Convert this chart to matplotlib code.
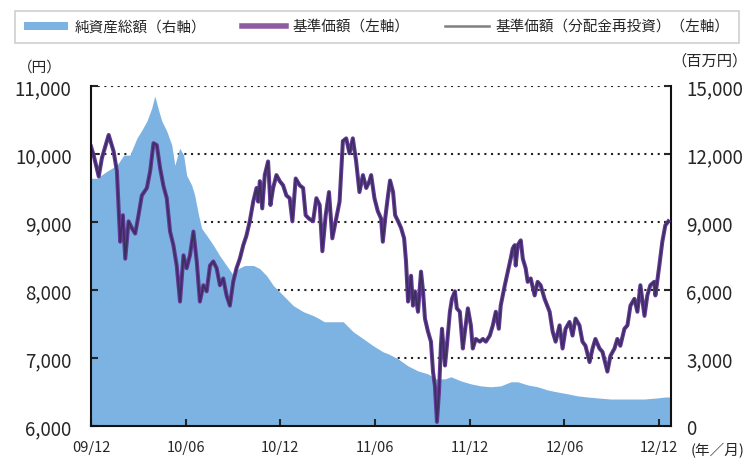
import matplotlib
matplotlib.use("Agg")
import matplotlib.pyplot as plt
from matplotlib.lines import Line2D
from matplotlib.patches import Patch

# months elapsed since 2009/12
nav_month = [
    0.00, 0.17, 0.49, 0.69, 1.12, 1.43, 1.64, 1.85, 2.02, 2.17,
    2.38, 2.59, 2.80, 3.01, 3.22, 3.54, 3.75, 3.96, 4.17, 4.38,
    4.59, 4.80, 5.01, 5.22, 5.43, 5.64, 5.86, 6.06, 6.27, 6.49,
    6.70, 6.90, 7.12, 7.33, 7.54, 7.75, 7.96, 8.17, 8.38, 8.59,
    8.80, 9.01, 9.22, 9.43, 9.65, 9.85, 10.06, 10.28, 10.49, 10.59,
    10.70, 10.85, 11.01, 11.22, 11.37, 11.54, 11.75, 11.96, 12.17, 12.38,
    12.59, 12.76, 12.97, 13.22, 13.44, 13.60, 13.81, 14.07, 14.28, 14.49,
    14.66, 14.87, 15.08, 15.29, 15.50, 15.75, 15.96, 16.17, 16.38, 16.59,
    16.80, 17.01, 17.23, 17.44, 17.64, 17.75, 17.96, 18.17, 18.38, 18.49,
    18.64, 18.82, 18.95, 19.14, 19.27, 19.46, 19.65, 19.84, 19.96, 20.09,
    20.28, 20.40, 20.53, 20.72, 20.91, 21.04, 21.16, 21.35, 21.54, 21.67,
    21.79, 21.92, 22.05, 22.17, 22.24, 22.43, 22.55, 22.74, 22.87, 23.06,
    23.18, 23.37, 23.56, 23.69, 23.88, 24.07, 24.19, 24.38, 24.64, 24.83,
    25.02, 25.27, 25.46, 25.65, 25.84, 25.96, 26.22, 26.41, 26.60, 26.72,
    26.85, 26.91, 27.04, 27.23, 27.36, 27.54, 27.67, 27.86, 28.11, 28.30,
    28.49, 28.74, 29.06, 29.25, 29.44, 29.69, 29.88, 30.07, 30.32, 30.51,
    30.70, 30.95, 31.14, 31.33, 31.59, 31.78, 31.96, 32.22, 32.41, 32.72,
    32.91, 33.17, 33.35, 33.54, 33.80, 33.99, 34.18, 34.43, 34.62, 34.81,
    35.07, 35.25, 35.44, 35.69, 35.76, 36.01, 36.20, 36.39, 36.58,
]
# 基準価額 (yen)
nav_value = [
    10110, 9980, 9670, 9940, 10280, 10040, 9750, 8710, 9100, 8460,
    9010, 8910, 8830, 9100, 9390, 9500, 9750, 10160, 10130, 9790,
    9530, 9350, 8860, 8660, 8360, 7830, 8510, 8320, 8510, 8860,
    8420, 7830, 8070, 7980, 8360, 8420, 8320, 8070, 8170, 7920,
    7770, 8120, 8320, 8460, 8660, 8800, 9010, 9300, 9500, 9300,
    9600, 9200, 9690, 9890, 9250, 9500, 9690, 9600, 9540, 9390,
    9350, 9010, 9640, 9540, 9500, 9100, 9050, 9010, 9350, 9250,
    8570, 9100, 9440, 8760, 9010, 9300, 10190, 10230, 10010, 10230,
    9890, 9440, 9690, 9500, 9600, 9690, 9350, 9160, 9050, 8710,
    9050, 9390, 9610, 9440, 9100, 9010, 8910, 8760, 8420, 7830,
    8210, 7770, 7980, 7680, 8270, 7980, 7580, 7390, 7240, 6800,
    6590, 6060, 6500, 7180, 7430, 6890, 7180, 7680, 7870, 7980,
    7730, 7680, 7140, 7390, 7730, 7480, 7140, 7280, 7240, 7280,
    7240, 7330, 7480, 7680, 7430, 7770, 8070, 8270, 8470, 8610,
    8660, 8360, 8660, 8730, 8460, 8320, 8120, 8170, 7920, 8120,
    8070, 7870, 7680, 7390, 7240, 7480, 7140, 7430, 7530, 7330,
    7580, 7480, 7240, 7180, 6940, 7140, 7280, 7140, 7090, 6800,
    7030, 7140, 7280, 7180, 7430, 7480, 7770, 7870, 7680, 8070,
    7620, 7920, 8070, 8120, 7920, 8360, 8710, 8950, 9010,
]
# no distributions were paid, so the reinvested series coincides with the NAV
nav_reinvest_value = list(nav_value)

# 純資産総額 (million yen)
asset_month = [
    0.00, 0.38, 1.01, 1.64, 2.08, 2.46, 2.91, 3.22, 3.54, 3.85,
    4.04, 4.30, 4.49, 4.80, 5.12, 5.31, 5.62, 5.87, 6.06, 6.38,
    6.57, 6.82, 7.01, 7.33, 7.77, 8.15, 8.59, 9.03, 9.35, 9.73,
    10.30, 10.68, 11.12, 11.56, 11.94, 12.38, 12.82, 13.46, 14.09, 14.47,
    14.78, 15.35, 15.98, 16.61, 17.25, 17.88, 18.51, 18.82, 19.46, 20.09,
    20.72, 21.35, 21.86, 22.43, 22.81, 23.44, 24.07, 24.70, 25.33, 25.96,
    26.60, 27.04, 27.67, 28.30, 28.93, 29.56, 30.20, 30.83, 31.46, 32.09,
    32.91, 33.99, 35.06, 35.88, 36.39, 36.75,
]
asset_value = [
    10930, 10930, 11240, 11500, 11950, 11950, 12700, 13050, 13450, 14030,
    14560, 13890, 13450, 13010, 12390, 11500, 12260, 11950, 11060, 10620,
    10180, 9290, 8720, 8410, 7960, 7520, 7080, 6640, 6950, 7080,
    7080, 6950, 6640, 6190, 5930, 5620, 5310, 5040, 4870, 4730,
    4600, 4600, 4600, 4160, 3850, 3540, 3270, 3190, 2960, 2650,
    2430, 2300, 2080, 2080, 2170, 1990, 1860, 1770, 1730, 1770,
    1950, 1950, 1810, 1730, 1590, 1500, 1420, 1330, 1280, 1240,
    1190, 1190, 1190, 1240, 1280, 1280,
]

x_ticks = [0, 6, 12, 18, 24, 30, 36]
x_labels = ["09/12", "10/06", "10/12", "11/06", "11/12", "12/06", "12/12"]
left_ticks = [6000, 7000, 8000, 9000, 10000, 11000]
right_ticks = [0, 3000, 6000, 9000, 12000, 15000]

legend_labels = ["純資産総額（右軸）", "基準価額（左軸）", "基準価額（分配金再投資）（左軸）"]

plt.rcParams["font.family"] = ["Noto Sans CJK JP", "DejaVu Sans"]

AREA = "#7DB3E2"
PURPLE = "#64399A"
GRAY = "#3B2F5C"
TEXT = "#262626"

fig = plt.figure(figsize=(7.52, 4.64), dpi=100)
ax = fig.add_axes([91 / 752, 37 / 464, 580 / 752, 340 / 464])
ax2 = ax.twinx()
# lines on top, area and grid underneath
ax.set_zorder(ax2.get_zorder() + 1)
ax.patch.set_visible(False)

# dotted grid sits behind the area, so draw it on the area axes
for v in right_ticks[1:]:
    ax2.axhline(v, color="#222222", lw=1.5, ls=(0, (1, 2.2)), zorder=1)
ax2.fill_between(asset_month, asset_value, 0, color=AREA, lw=0, zorder=2)

ax.plot(nav_month, nav_value, color=PURPLE, lw=2.9, solid_joinstyle="round")
ax.plot(nav_month, nav_reinvest_value, color=GRAY, lw=1.2, solid_joinstyle="round")

ax.set_xlim(0, 36.75)
ax.set_ylim(6000, 11000)
ax2.set_ylim(0, 15000)

ax.set_xticks(x_ticks)
ax.set_xticklabels(x_labels)
ax.set_yticks(left_ticks)
ax.set_yticklabels([f"{v:,}" for v in left_ticks])
ax2.set_yticks(right_ticks)
ax2.set_yticklabels([f"{v:,}" for v in right_ticks])

ax.tick_params(axis="x", direction="in", length=5, width=1.5, labelsize=10.5,
               pad=10, colors=TEXT)
ax.tick_params(axis="y", direction="in", length=5, width=1.5, labelsize=13.5,
               pad=14, colors=TEXT)
ax2.tick_params(axis="y", direction="in", length=5, width=1.5, labelsize=13.5,
                pad=11, colors=TEXT)

for a in (ax, ax2):
    a.spines["top"].set_visible(False)
    for s in a.spines.values():
        s.set_linewidth(1.5)
        s.set_color("#111111")
ax.spines["right"].set_visible(False)
ax2.spines["left"].set_visible(False)
ax2.spines["bottom"].set_visible(False)

fig.text(40 / 752, 1 - 68 / 464, "（円）", ha="center", va="center",
         fontsize=10.5, color=TEXT)
fig.text(710 / 752, 1 - 61 / 464, "（百万円）", ha="center", va="center",
         fontsize=11, color=TEXT)
fig.text(718 / 752, 1 - 451 / 464, "(年／月)", ha="center", va="center",
         fontsize=10.5, color=TEXT)

handles = [
    Patch(facecolor=AREA, edgecolor="none"),
    Line2D([], [], color="#8E5CA0", lw=4),
    Line2D([], [], color="#808080", lw=1.8),
]
leg = fig.legend(handles, legend_labels, loc="center", ncol=3, mode="expand",
                 bbox_to_anchor=(8 / 752, 1 - 48 / 464, 738 / 752, 40 / 464),
                 fontsize=10.5, handlelength=3.0, handleheight=0.5,
                 handletextpad=0.5, borderpad=0.6, fancybox=False,
                 frameon=True, labelcolor=TEXT)
leg.get_frame().set_edgecolor("#C4C4C4")
leg.get_frame().set_linewidth(1.2)

fig.savefig("out.png", dpi=100, facecolor="white")
